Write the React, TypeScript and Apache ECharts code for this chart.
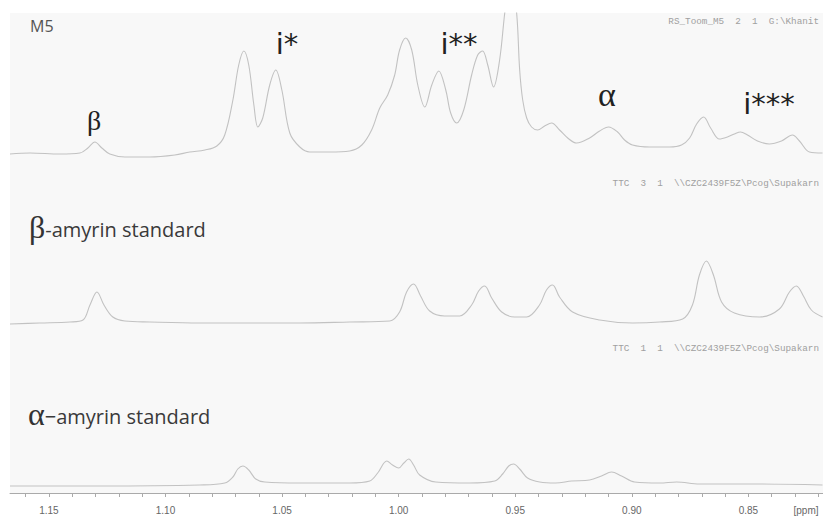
import React, { useEffect, useRef } from "react";
import * as echarts from "echarts";

// ---- data ----
const ppmMin = 0.818;
const ppmMax = 1.1667;

const m5Ppm = [1.1667, 1.1581, 1.1453, 1.1367, 1.1333, 1.1303, 1.1273, 1.1239, 1.1174, 1.1067, 1.096, 1.0896, 1.0831, 1.078, 1.0746, 1.0711, 1.0686, 1.0664, 1.0643, 1.0621, 1.0604, 1.0583, 1.0553, 1.0527, 1.0501, 1.0467, 1.0424, 1.0381, 1.0296, 1.021, 1.0158, 1.0116, 1.0081, 1.0047, 1.0017, 0.9996, 0.997, 0.9944, 0.9918, 0.9888, 0.9858, 0.9828, 0.9798, 0.9777, 0.9751, 0.9721, 0.9687, 0.9661, 0.964, 0.9618, 0.9593, 0.9567, 0.9545, 0.952, 0.9494, 0.9481, 0.9468, 0.9451, 0.943, 0.9404, 0.9374, 0.9344, 0.931, 0.9275, 0.9237, 0.9181, 0.9138, 0.91, 0.9061, 0.9031, 0.8997, 0.8924, 0.8838, 0.8787, 0.8752, 0.8722, 0.8692, 0.8662, 0.8624, 0.859, 0.856, 0.8534, 0.8504, 0.8461, 0.841, 0.8358, 0.8311, 0.8281, 0.8238, 0.8182];
const m5Int = [11, 12, 11, 12, 17, 23, 17, 11, 8, 8, 10, 13, 15, 19, 30, 65, 100, 114, 100, 60, 38, 47, 80, 95, 75, 32, 18, 13, 13, 14, 20, 35, 57, 70, 90, 115, 127, 115, 80, 58, 80, 94, 75, 52, 42, 55, 90, 110, 114, 100, 78, 105, 152, 195, 152, 95, 65, 47, 38, 35, 39, 42, 35, 27, 22, 27, 34, 38, 33, 25, 20, 18, 18, 20, 27, 41, 48, 37, 26, 28, 31, 33, 30, 24, 21, 24, 30, 24, 13, 12];

const betaPpm = [1.1667, 1.1539, 1.141, 1.1354, 1.1324, 1.1294, 1.1264, 1.1226, 1.1174, 1.1067, 1.0853, 1.0638, 1.0424, 1.021, 1.0038, 0.9996, 0.9966, 0.9936, 0.9906, 0.9867, 0.9803, 0.9738, 0.9687, 0.9657, 0.9631, 0.9601, 0.9558, 0.9503, 0.9451, 0.9396, 0.9366, 0.934, 0.931, 0.9254, 0.9138, 0.8997, 0.8881, 0.8782, 0.874, 0.871, 0.868, 0.865, 0.8615, 0.856, 0.8452, 0.8367, 0.8324, 0.8294, 0.8264, 0.823, 0.8182];
const betaInt = [6, 7, 8, 10, 25, 38, 25, 13, 9, 8, 7, 7, 7, 8, 9, 18, 38, 46, 34, 19, 14, 14, 25, 39, 44, 32, 18, 13, 13, 25, 40, 45, 33, 18, 10, 7, 8, 11, 25, 55, 69, 55, 28, 17, 13, 21, 38, 44, 34, 20, 13];

const alphaPpm = [1.1667, 1.1281, 1.0853, 1.0746, 1.0711, 1.069, 1.0668, 1.0643, 1.0613, 1.0574, 1.0424, 1.021, 1.0124, 1.009, 1.0051, 1.0026, 1.0, 0.9978, 0.9957, 0.9936, 0.991, 0.9841, 0.9696, 0.9588, 0.9554, 0.9528, 0.9507, 0.9481, 0.9447, 0.9395, 0.9327, 0.9258, 0.9181, 0.913, 0.9087, 0.9044, 0.8988, 0.8881, 0.8808, 0.871, 0.8495, 0.8182];
const alphaInt = [7, 7, 8, 10, 16, 24, 27, 23, 14, 11, 10, 10, 12, 20, 32, 28, 25, 30, 34, 28, 18, 11, 10, 12, 19, 27, 29, 24, 15, 11, 10, 12, 13, 17, 21, 17, 11, 10, 11, 9, 9, 8];

const labelTicks = [1.15, 1.1, 1.05, 1.0, 0.95, 0.9, 0.85];
const minorTicks = [1.16, 1.15, 1.14, 1.13, 1.12, 1.11, 1.1, 1.09, 1.08, 1.07, 1.06, 1.05, 1.04, 1.03, 1.02, 1.01, 1.0, 0.99, 0.98, 0.97, 0.96, 0.95, 0.94, 0.93, 0.92, 0.91, 0.9, 0.89, 0.88, 0.87, 0.86, 0.85, 0.84, 0.83, 0.82];

const traceNames = ["M5", "β-amyrin standard", "α−amyrin standard"];
const headers = [
  "RS_Toom_M5  2  1  G:\\Khanit",
  "TTC  3  1  \\\\CZC2439F5Z\\Pcog\\Supakarn",
  "TTC  1  1  \\\\CZC2439F5Z\\Pcog\\Supakarn",
];
const peakTags = ["β", "i*", "i**", "α", "i***"];

const zip = (xs: number[], ys: number[]) => xs.map((x, i) => [x, ys[i]]);

export default function App() {
  const ref = useRef<HTMLDivElement>(null);
  useEffect(() => {
    if (!ref.current) return;
    const chart = echarts.init(ref.current, undefined, { renderer: "svg" });
    const lineColor = "#c2c2c2";
    const gridBase = { left: 10, right: 0, show: true, backgroundColor: "#f8f8f8", borderWidth: 0 };
    const hiddenX = (i: number) => ({
      type: "value", gridIndex: i, min: ppmMin, max: ppmMax, inverse: true, show: false,
    });
    const series = [zip(m5Ppm, m5Int), zip(betaPpm, betaInt), zip(alphaPpm, alphaInt)].map((d, i) => ({
      type: "line",
      name: traceNames[i],
      xAxisIndex: i,
      yAxisIndex: i,
      data: d,
      symbol: "none",
      showSymbol: false,
      smooth: 0.35,
      clip: true,
      silent: true,
      lineStyle: { color: lineColor, width: 1.1 },
    }));
    const sans = "'DejaVu Sans', sans-serif";
    const serif = "'Liberation Serif', serif";
    const mono = "'Liberation Mono', 'DejaVu Sans Mono', monospace";
    // [x, y, size, family]
    const tagPos: [number, number, number, string][] = [
      [94, 120, 28, serif],
      [287, 44, 29, sans],
      [459, 44, 29, sans],
      [607, 94, 34, serif],
      [769, 104, 29, sans],
    ];
    const richLabel = (x: number, y: number, greek: string, rest: string) => ({
      type: "text", x, y,
      style: {
        text: `{b|${greek}}{t|${rest}}`,
        verticalAlign: "middle",
        rich: {
          b: { fontFamily: serif, fontSize: 32, fill: "#333", lineHeight: 34 },
          t: { fontFamily: "'Open Sans', sans-serif", fontSize: 20, fill: "#3a3a3a", lineHeight: 34, padding: [4, 0, 0, 0] },
        },
      },
    });
    const graphic: any[] = [
      {
        type: "text", left: 30, top: 18,
        style: { text: traceNames[0], font: "16px 'Open Sans', sans-serif", fill: "#555" },
      },
      richLabel(29, 227, "β", "-amyrin standard"),
      richLabel(28, 414, "α", "−amyrin standard"),
      ...headers.map((h, i) => ({
        type: "text", x: 819, y: [21, 183, 348][i],
        style: { text: h, font: `9.3px ${mono}`, fill: "#a0a0a0", align: "right", verticalAlign: "middle" },
      })),
      ...peakTags.map((t, i) => ({
        type: "text", x: tagPos[i][0], y: tagPos[i][1],
        style: {
          text: t, font: `${tagPos[i][2]}px ${tagPos[i][3]}`, fill: "#222",
          align: "center", verticalAlign: "middle",
        },
      })),
      {
        type: "text", x: 806, y: 510,
        style: { text: "[ppm]", font: `10px 'Liberation Sans', sans-serif`, fill: "#666", align: "center", verticalAlign: "middle" },
      },
    ];
    chart.setOption({
      animation: false,
      backgroundColor: "#ffffff",
      grid: [
        { ...gridBase, top: 13, height: 152 },
        { ...gridBase, top: 165, height: 165 },
        { ...gridBase, top: 330, height: 163 },
      ],
      xAxis: [
        hiddenX(0),
        hiddenX(1),
        {
          type: "value", gridIndex: 2, min: ppmMin, max: ppmMax, inverse: true,
          axisLine: { show: true, lineStyle: { color: "#aaa", width: 1 } },
          axisTick: { show: true, customValues: minorTicks, length: 4, lineStyle: { color: "#aaa" } },
          axisLabel: {
            show: true, customValues: labelTicks, margin: 12,
            formatter: (v: number) => v.toFixed(2),
            color: "#666", fontSize: 10, fontFamily: "'Liberation Sans', sans-serif",
          },
          splitLine: { show: false },
        },
      ],
      yAxis: [
        { type: "value", gridIndex: 0, min: 0, max: 152, show: false },
        { type: "value", gridIndex: 1, min: 0, max: 165, show: false },
        { type: "value", gridIndex: 2, min: 0, max: 163, show: false },
      ],
      series,
      graphic,
    });
    return () => chart.dispose();
  }, []);
  return (
    <div
      ref={ref}
      style={{ position: "fixed", left: 0, top: 0, width: 823, height: 517 }}
    />
  );
}
